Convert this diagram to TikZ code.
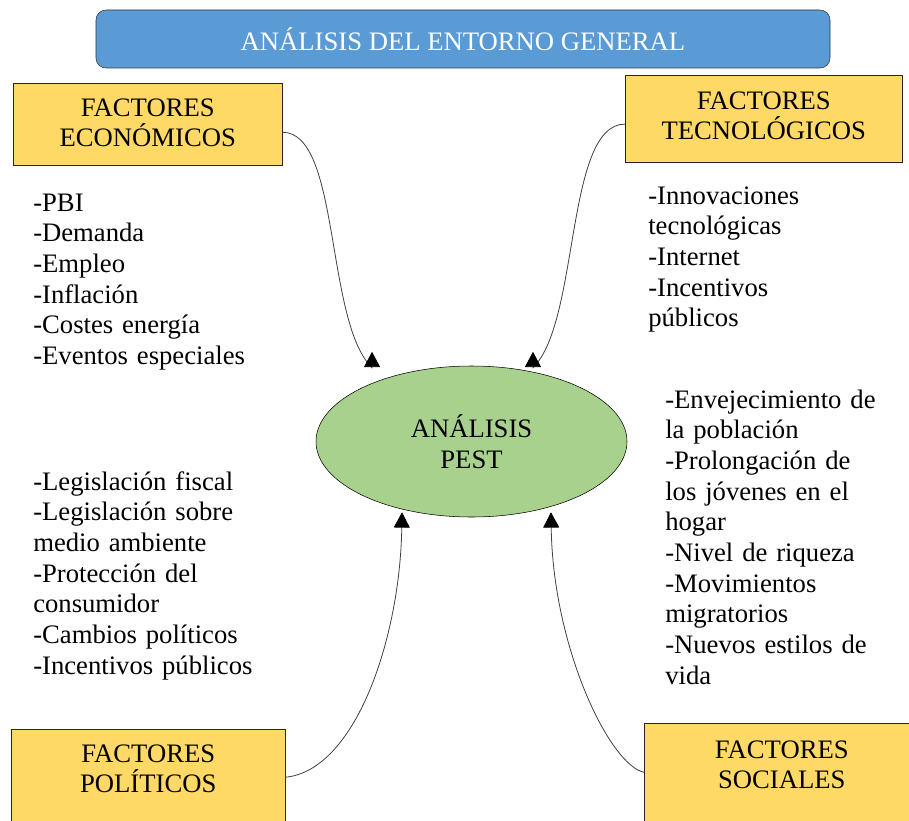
\documentclass[tikz,border=0pt]{standalone}
\usepackage{fontspec}
\setmainfont{Liberation Serif}
\usetikzlibrary{arrows.meta,shapes.geometric}
\definecolor{banner}{HTML}{5B9BD5}
\definecolor{gold}{HTML}{FFD966}
\definecolor{leaf}{HTML}{A9D18E}

\begin{document}
\begin{tikzpicture}
      [x = 0.75pt,
      y = -0.75pt,
      font = \fontsize{20}{23}\selectfont,
      title/.style = {
         draw = black!80,
         fill = banner,
         text = white,
         rounded corners = 7.5pt,
         minimum width = 550.5pt,
         minimum height = 43.5pt
      },
      factor/.style = {
         draw = black!85,
         fill = gold,
         anchor = north west,
         align = center,
         inner sep = 0pt
      },
      core/.style = {
         draw = black,
         fill = leaf,
         ellipse,
         align = center,
         inner sep = 0pt,
         minimum width = 233.25pt,
         minimum height = 113.25pt
      },
      list/.style = {
         anchor = base west,
         align = left,
         inner sep = 0pt,
         text width = 180pt
      },
      link/.style = {
         draw = black!75,
         line width = 0.6pt,
         -{Triangle[length = 11.5pt, width = 12pt, color = black]}
      }]
      \useasboundingbox (0, 0) rectangle (909, 820);

      \node[title] (entorno) at (463, 39) {ANÁLISIS DEL ENTORNO GENERAL};

      \node[factor, text width = 201.75pt, text height = 24.75pt, text depth = 36.75pt]
         (eco) at (13, 83) {FACTORES\\ECONÓMICOS};
      \node[factor, text width = 207.75pt, text height = 25.5pt, text depth = 39.75pt]
         (tech) at (625, 75) {FACTORES\\TECNOLÓGICOS};
      \node[factor, text width = 205.5pt, text height = 24.75pt, text depth = 66pt]
         (pol) at (11, 729) {FACTORES\\POLÍTICOS};
      \node[factor, text width = 206.25pt, text height = 26.25pt, text depth = 69pt]
         (soc) at (644, 723) {FACTORES\\SOCIALES};

      \node[core] (pest) at (471.5, 441.5) {ANÁLISIS\\PEST};

      \node[list] (ecolist) at (33, 211)
         {-PBI\\-Demanda\\-Empleo\\-Inflación\\-Costes energía\\-Eventos especiales};
      \node[list] (techlist) at (648, 204)
         {-Innovaciones\\tecnológicas\\-Internet\\-Incentivos\\públicos};
      \node[list] (sociallist) at (665, 408)
         {-Envejecimiento de\\la población\\-Prolongación de\\los jóvenes en el\\hogar\\-Nivel de riqueza\\-Movimientos\\migratorios\\-Nuevos estilos de\\vida};
      \node[list] (pollist) at (33, 490)
         {-Legislación fiscal\\-Legislación sobre\\medio ambiente\\-Protección del\\consumidor\\-Cambios políticos\\-Incentivos públicos};

      \draw[link] ([yshift = -6pt]eco.east) .. controls +(58, 0) and +(-47, -46) ..
         ([shift = {(-74.6pt, -1.5pt)}]pest.north) -- ([shift = {(-74.6pt, 10.5pt)}]pest.north);
      \draw[link] ([yshift = -4pt]tech.west) .. controls +(-60, 0) and +(47, -46) ..
         ([shift = {(46.1pt, -1.5pt)}]pest.north) -- ([shift = {(46.1pt, 10.5pt)}]pest.north);
      \draw[link] ([yshift = 9.4pt]pol.east) .. controls +(70, -7) and +(-2, 126) ..
         ([shift = {(-52.1pt, 3.75pt)}]pest.south);
      \draw[link] ([yshift = 10.9pt]soc.west) .. controls +(-34, -7) and +(2, 136) ..
         ([shift = {(59.6pt, 3.75pt)}]pest.south);
   \end{tikzpicture}
\end{document}
